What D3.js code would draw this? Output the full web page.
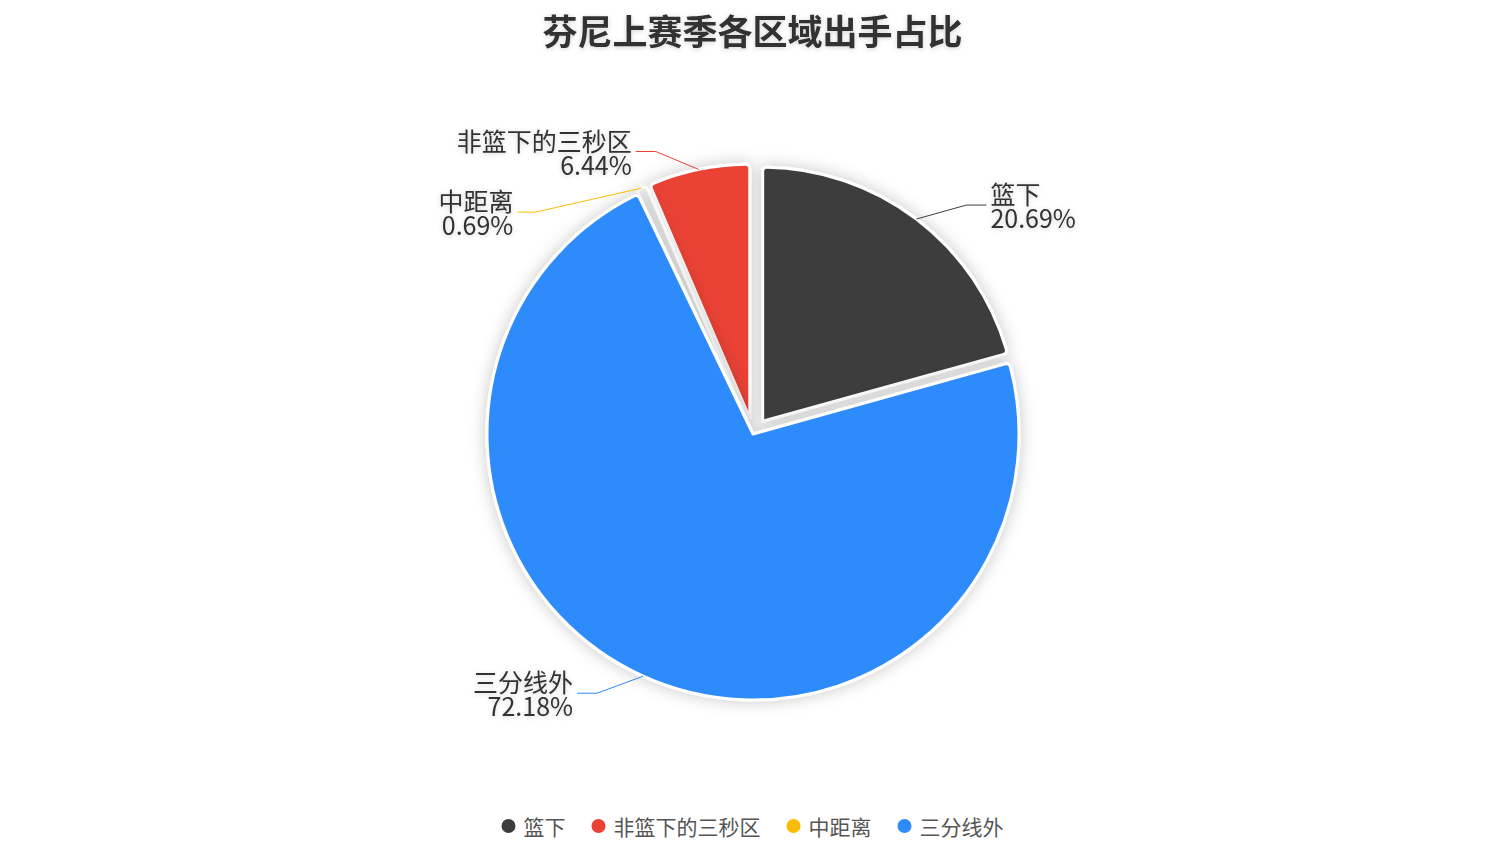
<!DOCTYPE html>
<html><head><meta charset="utf-8">
<script src="https://cdn.jsdelivr.net/npm/d3@7"></script>
<style>
html,body{margin:0;padding:0;background:#fff;}
svg{display:block;font-family:"Microsoft YaHei","Noto Sans CJK SC","Noto Sans",sans-serif;}
</style></head><body>
<svg id="chart" width="1503" height="846"></svg>
<script>
// ---- data ----
const chartTitle = "芬尼上赛季各区域出手占比";
const categories = ["篮下", "非篮下的三秒区", "中距离", "三分线外"];
const shotCounts = [90, 28, 3, 314];
const colors = ["#3d3d3d", "#ea4335", "#fbbc05", "#2e8bfb"];

// ---- style / layout ----
const W = 1503, H = 846;
const center = [753, 434];
const baseRadius = 254;
const radiusGrow = [0, 0, 0, 12];
const explode = [16, 16, 16, 0];
const fillOpacity = [1, 1, 0, 1];
const labelLayout = [
  {dx: 50, dy: -14, len: 20},
  {dx: -43, dy: -18, len: 20},
  {dx: -106, dy: 24, len: 18},
  {dx: -46, dy: 17, len: 20}
];

const svg = d3.select("#chart");
const defs = svg.append("defs");
const sh = defs.append("filter").attr("id", "sliceShadow")
  .attr("x", "-30%").attr("y", "-30%").attr("width", "160%").attr("height", "160%");
sh.append("feDropShadow").attr("dx", 0).attr("dy", 0).attr("stdDeviation", 8)
  .attr("flood-color", "#000").attr("flood-opacity", 0.22);
const ts = defs.append("filter").attr("id", "textShadow")
  .attr("x", "-20%").attr("y", "-50%").attr("width", "140%").attr("height", "200%");
ts.append("feDropShadow").attr("dx", 0).attr("dy", 1).attr("stdDeviation", 2.5)
  .attr("flood-color", "#000").attr("flood-opacity", 0.18);

const data = categories.map((c, i) => ({name: c, v: shotCounts[i], color: colors[i], i}));
const total = d3.sum(shotCounts);
const fmt = d3.format(".2f");

const a0 = 2 * Math.PI * shotCounts[0] / total;
const pie = d3.pie().sort(null).value(d => d.v).startAngle(a0).endAngle(a0 - 2 * Math.PI);
const arcs = pie(data);

const dir = a => [Math.sin(a), -Math.cos(a)];

// title
svg.append("text").attr("x", W / 2 + 1).attr("y", 29)
  .attr("text-anchor", "middle").attr("dominant-baseline", "central")
  .attr("font-size", 35).attr("font-weight", "bold").attr("fill", "#333")
  .attr("filter", "url(#textShadow)")
  .text(chartTitle);

const gPie = svg.append("g").attr("transform", `translate(${center[0]},${center[1]})`);

arcs.forEach(a => {
  const i = a.data.i;
  const mid = (a.startAngle + a.endAngle) / 2;
  const [ux, uy] = dir(mid);
  const r = baseRadius + radiusGrow[i];
  const arc = d3.arc().innerRadius(0).outerRadius(r).cornerRadius(4);
  gPie.append("path")
    .attr("d", arc(a))
    .attr("transform", `translate(${ux * explode[i]},${uy * explode[i]})`)
    .attr("fill", a.data.color)
    .attr("fill-opacity", fillOpacity[i])
    .attr("stroke", "#fff").attr("stroke-width", 3).attr("stroke-linejoin", "round")
    .attr("filter", "url(#sliceShadow)");
});

// labels
const gLab = svg.append("g");
arcs.forEach(a => {
  const i = a.data.i;
  const mid = (a.startAngle + a.endAngle) / 2;
  const [ux, uy] = dir(mid);
  const r = baseRadius + radiusGrow[i];
  const ax = center[0] + ux * (explode[i] + r);
  const ay = center[1] + uy * (explode[i] + r);
  const L = labelLayout[i];
  const side = L.dx >= 0 ? 1 : -1;
  const ex = ax + L.dx, ey = ay + L.dy;
  const fx = ex + side * L.len;
  gLab.append("polyline")
    .attr("points", [[ax, ay], [ex, ey], [fx, ey]].map(p => p.join(",")).join(" "))
    .attr("fill", "none").attr("stroke", a.data.color).attr("stroke-width", 1);
  const t = gLab.append("text")
    .attr("text-anchor", side > 0 ? "start" : "end")
    .attr("font-size", 25).attr("fill", "#333")
    .attr("filter", "url(#textShadow)");
  t.append("tspan").attr("x", fx + side * 4).attr("y", ey - 12)
    .attr("dominant-baseline", "central").text(a.data.name);
  t.append("tspan").attr("x", fx + side * 4).attr("y", ey + 12)
    .attr("dominant-baseline", "central").text(fmt(a.data.v / total * 100) + "%");
});

// legend
const gLeg = svg.append("g");
const legY = 826, iconR = 7, iconGap = 8, itemGap = 26, legFont = 21;
const items = data.map(d => {
  const g = gLeg.append("g");
  g.append("circle").attr("cx", iconR).attr("cy", legY).attr("r", iconR).attr("fill", d.color);
  const tx = g.append("text").attr("x", iconR * 2 + iconGap).attr("y", legY)
    .attr("dominant-baseline", "central").attr("font-size", legFont).attr("fill", "#555")
    .text(d.name);
  const w = iconR * 2 + iconGap + tx.node().getComputedTextLength();
  return {g, w};
});
const legW = d3.sum(items, d => d.w) + itemGap * (items.length - 1);
let lx = W / 2 + 1 - legW / 2;
items.forEach(it => {
  it.g.attr("transform", `translate(${lx},0)`);
  lx += it.w + itemGap;
});
</script>
</body></html>
